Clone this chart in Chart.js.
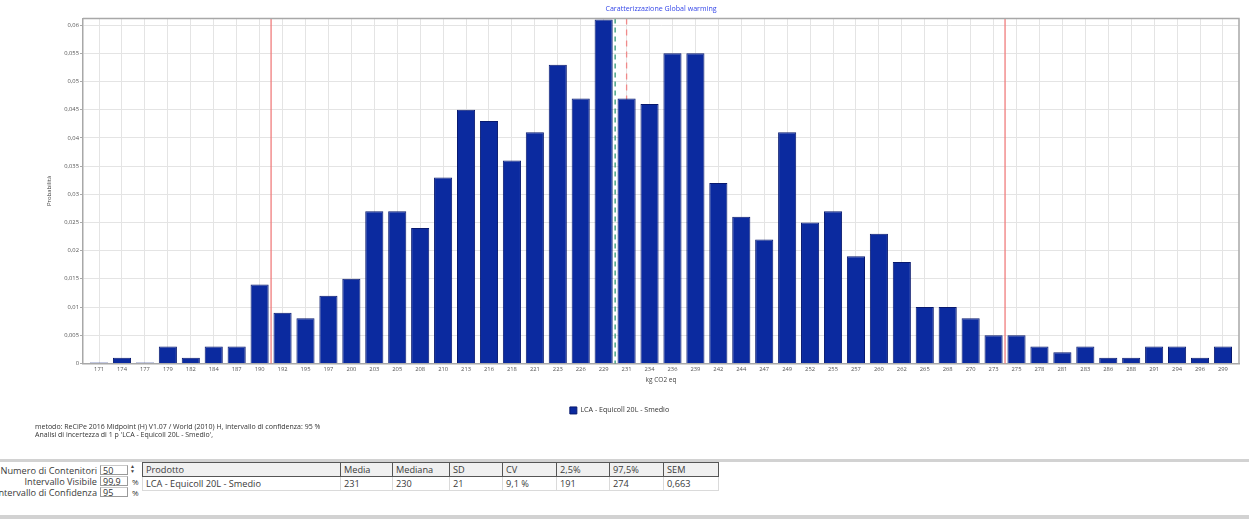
<!DOCTYPE html>
<html lang="it">
<head>
<meta charset="utf-8">
<title>Caratterizzazione Global warming</title>
<script src="https://cdn.jsdelivr.net/npm/chart.js@4.4.1/dist/chart.umd.min.js"></script>
<style>
  html, body { margin: 0; padding: 0; background: #fff; width: 1249px; height: 519px; overflow: hidden;
    font-family: "Open Sans", "Segoe UI", sans-serif; color: #333; }
  #chartBox { position: absolute; left: 0; top: 0; width: 1249px; height: 424px; }
  .note { position: absolute; left: 35px; font-size: 7px; line-height: 8px; white-space: nowrap; color: #333; }
  .band { position: absolute; left: 0; width: 1249px; background: #d2d2d2; }
  .params { position: absolute; left: 0; top: 465px; width: 97px; overflow: hidden; }
  .params div { height: 11px; line-height: 11px; font-size: 9.2px; text-align: right; white-space: nowrap; direction: rtl; color: #3a3a3a; }
  .inp { position: absolute; left: 100px; height: 10px; border: 1px solid #9a9a9a; border-top-color: #c8c8c8;
    font-size: 9px; line-height: 9px; padding-left: 2px; box-sizing: border-box; width: 28px; background: #fff; }
  .unit { position: absolute; left: 132px; font-size: 8px; line-height: 11px; }
  .spin { position: absolute; left: 130px; top: 464px; font-size: 5px; line-height: 5px; color: #444; }
  table.stats { position: absolute; left: 142px; top: 462px; border-collapse: collapse; font-size: 9.2px; color: #3a3a3a; }
  table.stats th, table.stats td { height: 12px; padding: 0 3px; text-align: left; font-weight: normal; white-space: nowrap; }
  table.stats th { background: #f0f0f0; border: 1px solid #555; }
  table.stats td { background: #fff; border: 1px solid #dadada; }
</style>
</head>
<body>
<div id="chartBox"><canvas id="chart" width="1249" height="424"></canvas></div>

<div class="note" style="top:423px">metodo: ReCiPe 2016 Midpoint (H) V1.07 / World (2010) H, intervallo di confidenza: 95 %</div>
<div class="note" style="top:431px">Analisi di incertezza di 1 p 'LCA - Equicoll 20L - Smedio',</div>

<div class="band" style="top:459px;height:3px"></div>
<div class="band" style="top:515px;height:4px"></div>
<div class="params" id="params"></div>
<div id="inputs"></div>
<div class="spin">&#9650;<br>&#9660;</div>
<table class="stats" id="stats"></table>

<script>
// Histogram bins (kg CO2 eq) and their probabilities
const categories = ['171','174','177','179','182','184','187','190','192','195',
  '197','200','203','205','208','210','213','216','218','221',
  '223','226','229','231','234','236','239','242','244','247',
  '249','252','255','257','260','262','265','268','270','273',
  '275','278','281','283','286','288','291','294','296','299'];
const probabilities = [0, 0.001, 0, 0.003, 0.001, 0.003, 0.003, 0.014, 0.009, 0.008,
  0.012, 0.015, 0.027, 0.027, 0.024, 0.033, 0.045, 0.043, 0.036, 0.041,
  0.053, 0.047, 0.061, 0.047, 0.046, 0.055, 0.055, 0.032, 0.026, 0.022,
  0.041, 0.025, 0.027, 0.019, 0.023, 0.018, 0.010, 0.010, 0.008, 0.005,
  0.005, 0.003, 0.002, 0.003, 0.001, 0.001, 0.003, 0.003, 0.001, 0.003];
const yTickValues = [0, 0.005, 0.01, 0.015, 0.02, 0.025, 0.03, 0.035, 0.04, 0.045, 0.05, 0.055, 0.06];
const yMax = 0.0612;
const seriesLabel = 'LCA - Equicoll 20L - Smedio';
const chartTitle = 'Caratterizzazione Global warming';
const xTitle = 'kg CO2 eq';
const yTitle = 'Probabilità';

// Summary statistics (table + reference lines)
const statHeaders = ['Prodotto', 'Media', 'Mediana', 'SD', 'CV', '2,5%', '97,5%', 'SEM'];
const statProduct = 'LCA - Equicoll 20L - Smedio';
const statMean = 231;
const statMedian = 230;
const statSD = 21;
const statCV = '9,1 %';
const statP025 = 191;
const statP975 = 274;
const statSEM = '0,663';

// Side parameters
const paramLabels = ['Numero di Contenitori', 'Intervallo Visibile', 'Intervallo di Confidenza'];
const paramValues = ['50', '99,9', '95'];
const paramUnits = ['', '%', '%'];

// ---- side panel + table ----
const params = document.getElementById('params');
const inputs = document.getElementById('inputs');
paramLabels.forEach((t, i) => {
  const d = document.createElement('div');
  d.innerHTML = '<bdi>' + t + '</bdi>';
  params.appendChild(d);
  const inp = document.createElement('div');
  inp.className = 'inp';
  inp.style.top = (465 + i * 11) + 'px';
  inp.textContent = paramValues[i];
  inputs.appendChild(inp);
  if (paramUnits[i]) {
    const u = document.createElement('div');
    u.className = 'unit';
    u.style.top = (465 + i * 11) + 'px';
    u.textContent = paramUnits[i];
    inputs.appendChild(u);
  }
});
const colWidths = [198, 52, 57, 53, 54, 53, 54, 55];
const rowValues = [statProduct, String(statMean), String(statMedian), String(statSD), statCV,
  String(statP025), String(statP975), statSEM];
const table = document.getElementById('stats');
let html = '<tr>' + statHeaders.map((h, i) => '<th style="width:' + (colWidths[i] - 7) + 'px">' + h + '</th>').join('') + '</tr>';
html += '<tr>' + rowValues.map(v => '<td>' + v + '</td>').join('') + '</tr>';
table.innerHTML = html;

// ---- chart ----
Chart.defaults.font.family = '"Open Sans", "Segoe UI", sans-serif';
Chart.defaults.color = '#444';

// fractional category position of a value, interpolated between bin labels
function valueToIndex(v) {
  const nums = categories.map(Number);
  for (let i = 0; i < nums.length - 1; i++) {
    if (v >= nums[i] && v <= nums[i + 1]) return i + (v - nums[i]) / (nums[i + 1] - nums[i]);
  }
  return v < nums[0] ? 0 : nums.length - 1;
}

function vline(chart, value, color, dash, width) {
  const {ctx, chartArea} = chart;
  const x = chart.scales.x.getPixelForValue(valueToIndex(value));
  ctx.save();
  ctx.strokeStyle = color;
  ctx.lineWidth = width;
  ctx.setLineDash(dash);
  ctx.beginPath();
  ctx.moveTo(x, chartArea.top);
  ctx.lineTo(x, chartArea.bottom);
  ctx.stroke();
  ctx.restore();
}

const statLines = {
  id: 'statLines',
  beforeDatasetsDraw(chart) {
    vline(chart, statP025, '#f07c7c', [], 1.3);
    vline(chart, statP975, '#f07c7c', [], 1.3);
    vline(chart, statMean, '#f08a8a', [6, 5], 1.3);
  },
  afterDatasetsDraw(chart) {
    vline(chart, statMedian, '#1f8f6a', [5, 4], 1.2);
    const {ctx, chartArea} = chart;
    ctx.save();
    ctx.strokeStyle = '#a8a8a8';
    ctx.lineWidth = 1.5;
    ctx.beginPath();
    ctx.moveTo(chartArea.left, chartArea.top);
    ctx.lineTo(chartArea.right, chartArea.top);
    ctx.lineTo(chartArea.right, chartArea.bottom);
    ctx.stroke();
    ctx.restore();
  }
};

new Chart(document.getElementById('chart'), {
  type: 'bar',
  data: {
    labels: categories,
    datasets: [{
      label: seriesLabel,
      data: probabilities,
      backgroundColor: '#0b2a9f',
      borderColor: '#08196e',
      borderWidth: 1,
      minBarLength: 1,
      categoryPercentage: 1,
      barPercentage: 0.79
    }]
  },
  options: {
    responsive: false,
    animation: false,
    layout: { padding: { left: 0, right: 10, top: 0, bottom: 0 } },
    plugins: {
      title: {
        display: true,
        fullSize: false,
        text: chartTitle,
        color: '#3446e8',
        font: { size: 7.1, weight: 'normal' },
        padding: { top: 5, bottom: 4.9 }
      },
      legend: {
        position: 'bottom',
        labels: {
          boxWidth: 7, boxHeight: 7, padding: 21.5,
          color: '#333',
          font: { size: 7.1 }
        }
      },
      tooltip: { enabled: false }
    },
    scales: {
      x: {
        offset: true,
        afterBuildTicks(scale) {
          // a little breathing room between the frame and the first/last bin
          scale._startValue -= 0.2;
          scale._valueRange += 0.4;
        },
        afterFit(scale) { scale.height = 22; },
        grid: { offset: false, color: '#e4e4e4', drawTicks: false, lineWidth: 1 },
        border: { color: '#a8a8a8', width: 1.5 },
        ticks: { autoSkip: false, maxRotation: 0, padding: 2, color: '#555', font: { size: 5.8 } },
        title: { display: true, text: xTitle, color: '#444', font: { size: 6.5 }, padding: { top: 0, bottom: 1.2 } }
      },
      y: {
        min: 0,
        max: yMax,
        afterBuildTicks(scale) {
          scale.ticks = yTickValues.map(v => ({ value: v }));
        },
        afterFit(scale) { scale.width = 83; },
        grid: { color: '#e4e4e4', tickLength: 3, tickColor: '#aaa' },
        border: { color: '#a8a8a8', width: 1.5 },
        ticks: {
          padding: 1,
          color: '#555',
          font: { size: 5.8 },
          callback: v => v === 0 ? '0' : String(Math.round(v * 1000) / 1000).replace('.', ',')
        },
        title: { display: true, text: yTitle, color: '#444', font: { size: 6 }, padding: { top: 46, bottom: 0 } }
      }
    }
  },
  plugins: [statLines]
});
</script>
</body>
</html>
